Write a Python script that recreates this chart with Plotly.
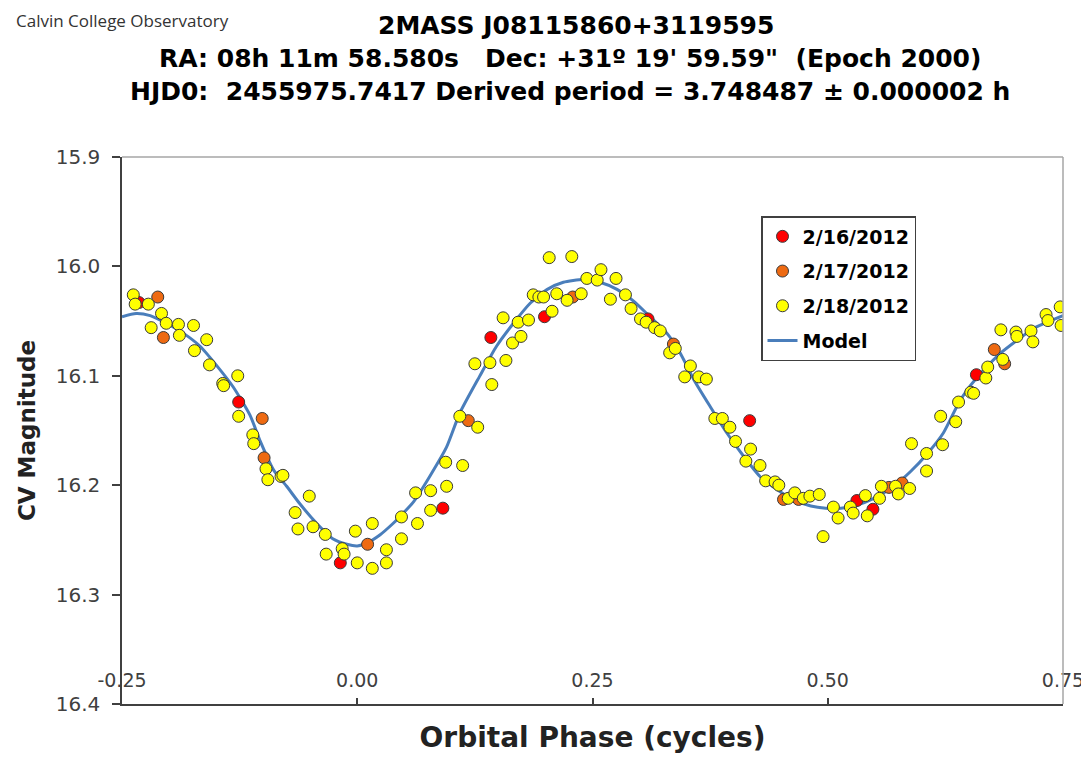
import plotly.graph_objects as go

# ---- data ----
red_phase = [-0.232, -0.126, -0.018, 0.091, 0.142, 0.199, 0.309, 0.417, 0.531, 0.548, 0.658]
red_mag = [16.033, 16.124, 16.271, 16.221, 16.065, 16.046, 16.048, 16.141, 16.214, 16.222, 16.099]

orange_phase = [-0.212, -0.206, -0.101, -0.099, 0.011, 0.118, 0.229, 0.336, 0.453, 0.469,
                0.565, 0.579, 0.677, 0.688]
orange_mag = [16.028, 16.065, 16.139, 16.175, 16.254, 16.141, 16.028, 16.071, 16.213, 16.213,
              16.202, 16.198, 16.076, 16.089]

yellow_phase = [-0.238, -0.236, -0.222, -0.219, -0.208, -0.203, -0.190, -0.189, -0.174, -0.173,
                -0.160, -0.157, -0.143, -0.142, -0.127, -0.126, -0.111, -0.110, -0.097, -0.095,
                -0.081, -0.079, -0.066, -0.063, -0.051, -0.047, -0.034, -0.033, -0.016, -0.014,
                -0.002, 0.000, 0.016, 0.016, 0.031, 0.031, 0.047, 0.047, 0.062, 0.064,
                0.078, 0.078, 0.094, 0.095, 0.109, 0.112, 0.125, 0.128, 0.141, 0.143,
                0.155, 0.158, 0.165, 0.171, 0.174, 0.182, 0.187, 0.193, 0.198, 0.204,
                0.207, 0.212, 0.223, 0.228, 0.238, 0.244, 0.255, 0.259, 0.269, 0.275,
                0.285, 0.291, 0.301, 0.307, 0.316, 0.322, 0.332, 0.338, 0.348, 0.354,
                0.363, 0.371, 0.380, 0.388, 0.396, 0.402, 0.413, 0.418, 0.428, 0.434,
                0.444, 0.448, 0.458, 0.465, 0.474, 0.481, 0.491, 0.495, 0.506, 0.511,
                0.524, 0.527, 0.540, 0.542, 0.555, 0.557, 0.572, 0.575, 0.587, 0.589,
                0.605, 0.605, 0.620, 0.622, 0.636, 0.639, 0.652, 0.655, 0.668, 0.670,
                0.684, 0.686, 0.700, 0.701, 0.716, 0.718, 0.732, 0.734, 0.747, 0.748]
yellow_mag = [16.026, 16.0345, 16.0345, 16.056, 16.043, 16.052, 16.053, 16.063, 16.054, 16.077,
              16.067, 16.090, 16.107, 16.109, 16.100, 16.137, 16.154, 16.162, 16.185, 16.195,
              16.192, 16.191, 16.225, 16.240, 16.210, 16.238, 16.245, 16.263, 16.258, 16.263,
              16.242, 16.271, 16.235, 16.276, 16.259, 16.271, 16.229, 16.249, 16.207, 16.235,
              16.205, 16.223, 16.179, 16.201, 16.137, 16.182, 16.089, 16.147, 16.088, 16.108,
              16.047, 16.086, 16.070, 16.051, 16.064, 16.049, 16.026, 16.028, 16.028, 15.992,
              16.041, 16.025, 16.031, 15.991, 16.025, 16.011, 16.0125, 16.003, 16.030, 16.011,
              16.026, 16.0385, 16.048, 16.051, 16.056, 16.059, 16.079, 16.075, 16.101, 16.091,
              16.101, 16.103, 16.139, 16.139, 16.147, 16.160, 16.178, 16.167, 16.182, 16.196,
              16.197, 16.200, 16.212, 16.207, 16.212, 16.210, 16.2085, 16.247, 16.220, 16.230,
              16.220, 16.2255, 16.2095, 16.228, 16.212, 16.201, 16.201, 16.208, 16.203, 16.162,
              16.171, 16.187, 16.137, 16.163, 16.142, 16.124, 16.115, 16.116, 16.102, 16.092,
              16.058, 16.085, 16.060, 16.064, 16.059, 16.069, 16.044, 16.0495, 16.037, 16.054]

model_phase = [-0.250, -0.235, -0.220, -0.203, -0.185, -0.167, -0.150, -0.132, -0.114, -0.103,
               -0.089, -0.075, -0.061, -0.043, -0.026, -0.011, 0.000, 0.010, 0.024, 0.038,
               0.045, 0.060, 0.077, 0.095, 0.109, 0.130, 0.148, 0.166, 0.184, 0.202,
               0.219, 0.240, 0.258, 0.276, 0.294, 0.311, 0.329, 0.343, 0.358, 0.375,
               0.393, 0.411, 0.428, 0.446, 0.464, 0.482, 0.498, 0.514, 0.528, 0.549,
               0.570, 0.588, 0.606, 0.623, 0.639, 0.648, 0.666, 0.684, 0.702, 0.719,
               0.737, 0.750]
model_mag = [16.046, 16.043, 16.045, 16.052, 16.061, 16.073, 16.090, 16.110, 16.136, 16.160,
             16.186, 16.201, 16.217, 16.235, 16.249, 16.254, 16.2555, 16.253, 16.2455, 16.235,
             16.229, 16.215, 16.192, 16.165, 16.134, 16.1005, 16.073, 16.052, 16.0335, 16.021,
             16.0145, 16.012, 16.0145, 16.021, 16.032, 16.046, 16.061, 16.079, 16.104, 16.128,
             16.1525, 16.174, 16.192, 16.204, 16.2135, 16.219, 16.221, 16.221, 16.219, 16.212,
             16.201, 16.1875, 16.171, 16.152, 16.125, 16.113, 16.0945, 16.079, 16.067, 16.0565,
             16.0495, 16.045]

x_ticks = [-0.25, 0.00, 0.25, 0.50, 0.75]
y_ticks = [15.9, 16.0, 16.1, 16.2, 16.3, 16.4]

title_lines = ["2MASS J08115860+3119595",
               "RA: 08h 11m 58.580s   Dec: +31º 19' 59.59\"  (Epoch 2000)",
               "HJD0:  2455975.7417 Derived period = 3.748487 ± 0.000002 h"]

# ---- figure ----
OFF = 8                      # page body margin
W, H = 1081, 749
ml, mr, mt, mb = 114, 26, 149, 53
PW, PH = W - ml - mr, H - mt - mb
LEFT, BOTTOM = OFF + ml, OFF + H - mb


def px_x(px):
    return (px - LEFT) / PW


def px_y(py):
    return (BOTTOM - py) / PH


FONT = "DejaVu Sans, Arial, sans-serif"

fig = go.Figure()

mk_line = dict(color="#3a3a3a", width=1)
fig.add_trace(go.Scatter(x=model_phase, y=model_mag, mode="lines", name="Model",
                         line=dict(color="#4A7EBB", width=3, shape="spline", smoothing=0.6),
                         legendrank=4, legendgroup="m"))
fig.add_trace(go.Scatter(x=red_phase, y=red_mag, mode="markers", name="2/16/2012",
                         marker=dict(color="#FF0000", size=12, line=mk_line),
                         legendrank=1, legendgroup="r"))
fig.add_trace(go.Scatter(x=orange_phase, y=orange_mag, mode="markers", name="2/17/2012",
                         marker=dict(color="#EE6A12", size=12, line=mk_line),
                         legendrank=2, legendgroup="o"))
fig.add_trace(go.Scatter(x=yellow_phase, y=yellow_mag, mode="markers", name="2/18/2012",
                         marker=dict(color="#FFFF00", size=12, line=mk_line),
                         legendrank=3, legendgroup="y"))

fig.update_layout(
    width=W, height=H,
    margin=dict(l=ml, r=mr, t=mt, b=mb, autoexpand=False),
    paper_bgcolor="white", plot_bgcolor="white",
    font=dict(family=FONT, color="#000000"),
    showlegend=True,
    legend=dict(x=px_x(761), y=px_y(216), xanchor="left", yanchor="top",
                bgcolor="white", bordercolor="#404040", borderwidth=1.5,
                font=dict(size=19, family=FONT, color="#000000", weight="bold"),
                tracegroupgap=7, itemwidth=30),
    xaxis=dict(range=[-0.25, 0.75], tickvals=x_ticks, ticktext=[f"{v:.2f}" for v in x_ticks],
               ticks="inside", ticklen=6, tickcolor="#404040", tickwidth=1.5,
               ticklabelposition="inside", ticklabelstandoff=8, ticklabeloverflow="allow",
               tickfont=dict(size=19, color="#404040", family=FONT),
               showgrid=False, zeroline=False, showline=True, linecolor="#404040", linewidth=1.5,
               title=dict(text="<b>Orbital Phase (cycles)</b>",
                          font=dict(size=28, color="#222", family=FONT), standoff=37),
               automargin=False),
    yaxis=dict(range=[16.4, 15.9], tickvals=y_ticks, ticktext=[f"{v:.1f}" for v in y_ticks],
               ticks="outside", ticklen=8, tickcolor="#404040", tickwidth=1.5,
               ticklabelstandoff=8,
               tickfont=dict(size=20, color="#404040", family=FONT),
               showgrid=False, zeroline=False, showline=True, linecolor="#404040", linewidth=1.5,
               title=dict(text="<b>CV Magnitude</b>",
                          font=dict(size=23, color="#222", family=FONT), standoff=14),
               automargin=False),
)

# grey top and right frame lines
fig.add_shape(type="line", xref="paper", yref="paper", x0=0, x1=1, y0=1, y1=1,
              line=dict(color="#a6a6a6", width=1.5))
fig.add_shape(type="line", xref="paper", yref="paper", x0=1, x1=1, y0=0, y1=1,
              line=dict(color="#a6a6a6", width=1.5))

# title lines
title_centers = [576, 570, 570]
title_ys = [25, 58, 92]
for txt, cx, cy in zip(title_lines, title_centers, title_ys):
    fig.add_annotation(text=f"<b>{txt}</b>", xref="paper", yref="paper",
                       x=px_x(cx), y=px_y(cy),
                       xanchor="center", yanchor="middle", showarrow=False,
                       font=dict(size=25, color="#000000", family=FONT))

fig.add_annotation(text="Calvin College Observatory", xref="paper", yref="paper",
                   x=px_x(15), y=1 + mt / PH, xanchor="left", yanchor="top",
                   showarrow=False, borderpad=0,
                   font=dict(size=17, color="#333333", family="Open Sans, Lato, sans-serif"))

fig.write_html("out.html")
